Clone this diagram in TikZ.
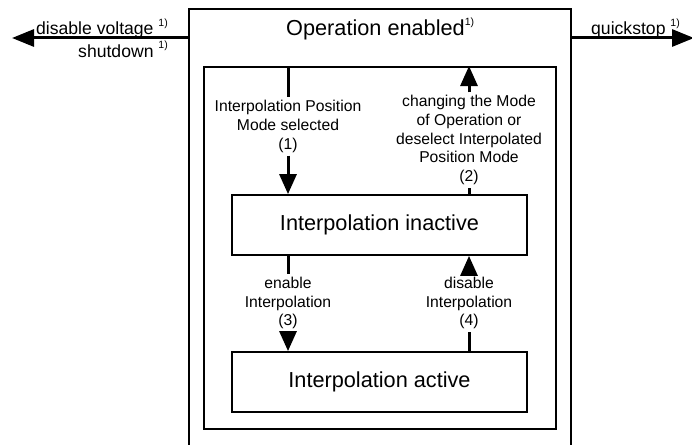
\documentclass[tikz,border=0pt]{standalone}
\usepackage{fontspec}
\setmainfont{Liberation Sans}
\usetikzlibrary{arrows.meta}
\newcommand{\supone}{\raisebox{0.95ex}{\fontsize{10.5}{10.5}\selectfont 1)}}
\begin{document}
\begin{tikzpicture}[x=1pt,y=-1pt,
  frame/.style={draw, line width=1.6pt, rectangle, inner sep=0pt},
  statebox/.style={draw, line width=1.8pt, rectangle, minimum width=295pt, minimum height=60pt, inner sep=0pt, font=\fontsize{21.7}{24}\selectfont},
  lbl/.style={fill=white, align=center, inner sep=3pt, font=\fontsize{15.7}{18.6}\selectfont},
  outlbl/.style={inner sep=0pt, font=\fontsize{17.6}{20}\selectfont},
  seg/.style={line width=3pt},
  arr/.style={line width=3pt, -{Triangle[length=20pt,width=17pt]}},
  bigarr/.style={line width=3pt, -{Triangle[length=22pt,width=17pt]}}]
\useasboundingbox (0,0) rectangle (692,444);
% outer frame (runs off the bottom)
\node[frame, minimum width=382pt, minimum height=460pt, anchor=north west] (outer) at (188,8) {};
\node[anchor=base west, inner sep=0pt, font=\fontsize{21.7}{24}\selectfont] (title) at (286,36) {Operation enabled\supone};
% inner frame
\node[frame, line width=1.8pt, minimum width=352pt, minimum height=362pt, anchor=north west] (inner) at (203,66) {};
% states
\node[statebox] (inactive) at (379.5,225) {Interpolation inactive};
\node[statebox] (active) at (379.5,382) {Interpolation active};
% labels
\node[lbl] (l1) at (288,126.5) {Interpolation Position\\Mode selected\\(1)};
\node[lbl] (l2) at (469,140) {changing the Mode\\of Operation or\\deselect Interpolated\\Position Mode\\(2)};
\node[lbl] (l3) at (288,303) {enable\\Interpolation\\(3)};
\node[lbl] (l4) at (469,303) {disable\\Interpolation\\(4)};
% transitions
\draw[seg] (inner.north -| l1) -- (l1.north);
\draw[arr] (l1.south) -- (inactive.north -| l1);
\draw[seg] (inactive.north -| l2) -- (l2.south);
\draw[arr] (l2.north) -- (inner.north -| l2);
\draw[seg] (inactive.south -| l3) -- (l3.north);
\draw[arr] (l3.south) -- (active.north -| l3);
\draw[seg] (active.north -| l4) -- (l4.south);
\draw[arr] (l4.north) -- (inactive.south -| l4);
% outgoing transitions
\coordinate (lstart) at (188,38);
\coordinate (lend) at (12,38);
\coordinate (rstart) at (570,38);
\coordinate (rend) at (694,38);
\draw[bigarr] (lstart) -- (lend);
\draw[bigarr] (rstart) -- (rend);
\node[outlbl, anchor=base east] (dv) at (168,35) {disable voltage \supone};
\node[outlbl, anchor=base east] (sd) at (168,57) {shutdown \supone};
\node[outlbl, anchor=base west] (qs) at (591,35) {quickstop \supone};
\end{tikzpicture}
\end{document}
